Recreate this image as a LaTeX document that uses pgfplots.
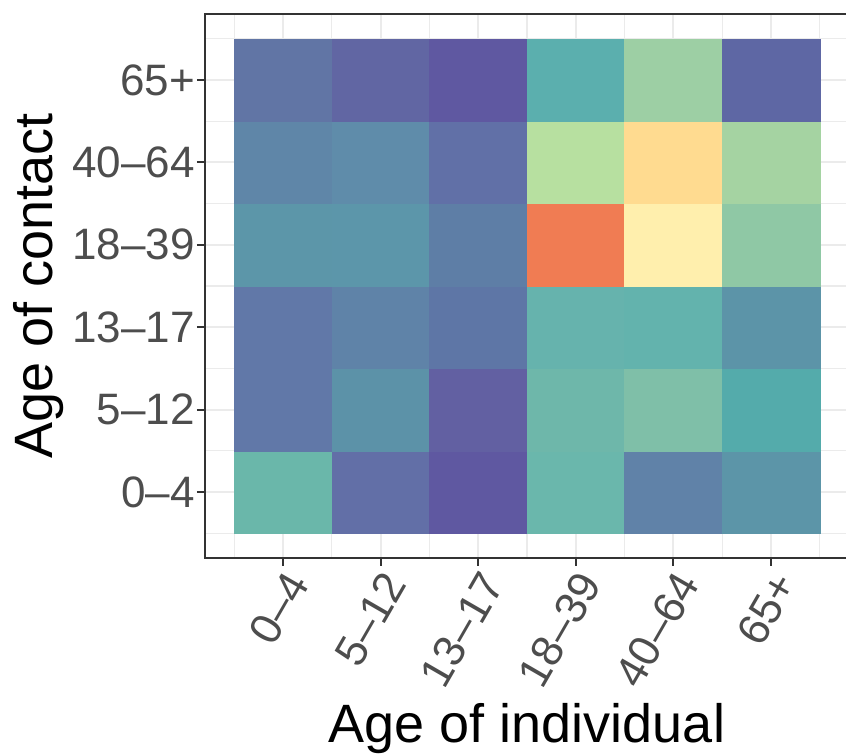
\documentclass[border=0pt]{standalone}
\usepackage{fontspec}
\setmainfont{Liberation Sans}
\usepackage{pgfplots}
\pgfplotsset{compat=1.18}

\definecolor{gridgray}{HTML}{EBEBEB}
\definecolor{framegray}{HTML}{333333}
\definecolor{ticktext}{HTML}{4D4D4D}

\begin{document}
\begin{tikzpicture}

	\begin{axis}[
		scale only axis,
		width			= 644pt,
		height			= 544pt,
		xmin = 0.2, xmax = 6.8,
		ymin = 0.2, ymax = 6.8,
		tick pos		= left,
		tick align		= outside,
		xtick			= {1,2,3,4,5,6},
		ytick			= {1,2,3,4,5,6},
		xticklabels		= {0–4, 5–12, 13–17, 18–39, 40–64, 65+},
		yticklabels		= {0–4, 5–12, 13–17, 18–39, 40–64, 65+},
		minor xtick		= {0.5,1.5,...,6.5},
		minor ytick		= {0.5,1.5,...,6.5},
		grid			= both,
		major grid style	= {gridgray, line width=2.2pt},
		minor grid style	= {gridgray, line width=1.1pt},
		major tick length	= 8pt,
		minor tick length	= 0pt,
		major tick style	= {framegray, line width=2.2pt},
		axis line style		= {framegray, line width=2.2pt},
		ticklabel style		= {font=\fontsize{44}{52}\selectfont, text=ticktext},
		xticklabel style	= {rotate=60, anchor=north east, inner sep=2pt},
		yticklabel style	= {anchor=east, inner sep=2pt},
		label style		= {font=\fontsize{54}{64}\selectfont},
		xlabel			= {Age of individual},
		ylabel			= {Age of contact},
		xlabel style		= {at={([yshift=-185pt]axis description cs:0.5,0)}, anchor=base},
		ylabel style		= {at={([xshift=-152pt]axis description cs:0,0.5)}, anchor=base},
	]

		% tile colours, rows 0-4 ... 65+ (age of contact)
		\addplot [matrix plot*, mesh/cols=6, mesh/color input=explicit, point meta=explicit symbolic]
		table [meta=c] {
			x y c
			1 1 rgb=0.416,0.718,0.667
			2 1 rgb=0.384,0.435,0.655
			3 1 rgb=0.373,0.345,0.631
			4 1 rgb=0.416,0.718,0.675
			5 1 rgb=0.376,0.510,0.659
			6 1 rgb=0.361,0.584,0.659
			1 2 rgb=0.380,0.471,0.659
			2 2 rgb=0.361,0.573,0.659
			3 2 rgb=0.384,0.376,0.635
			4 2 rgb=0.431,0.718,0.667
			5 2 rgb=0.498,0.749,0.659
			6 2 rgb=0.329,0.671,0.671
			1 3 rgb=0.380,0.471,0.659
			2 3 rgb=0.373,0.514,0.659
			3 3 rgb=0.369,0.463,0.651
			4 3 rgb=0.400,0.702,0.678
			5 3 rgb=0.388,0.702,0.678
			6 3 rgb=0.361,0.580,0.659
			1 4 rgb=0.361,0.588,0.663
			2 4 rgb=0.361,0.588,0.667
			3 4 rgb=0.369,0.494,0.651
			4 4 rgb=0.941,0.486,0.325
			5 4 rgb=1.000,0.937,0.678
			6 4 rgb=0.561,0.784,0.647
			1 5 rgb=0.373,0.525,0.659
			2 5 rgb=0.373,0.549,0.667
			3 5 rgb=0.380,0.439,0.655
			4 5 rgb=0.718,0.878,0.627
			5 5 rgb=1.000,0.859,0.565
			6 5 rgb=0.647,0.827,0.635
			1 6 rgb=0.380,0.459,0.647
			2 6 rgb=0.380,0.400,0.639
			3 6 rgb=0.373,0.345,0.631
			4 6 rgb=0.357,0.686,0.682
			5 6 rgb=0.616,0.812,0.643
			6 6 rgb=0.369,0.404,0.643
		};

		\coordinate (bl) at (rel axis cs:0,0);
		\coordinate (tl) at (rel axis cs:0,1);

	\end{axis}

	% the reference is cut just left of the panel's right border
	\pgfresetboundingbox
	\path[use as bounding box] ([xshift=-205pt, yshift=-197pt]bl) rectangle ([xshift=641pt, yshift=14pt]tl);

\end{tikzpicture}
\end{document}
